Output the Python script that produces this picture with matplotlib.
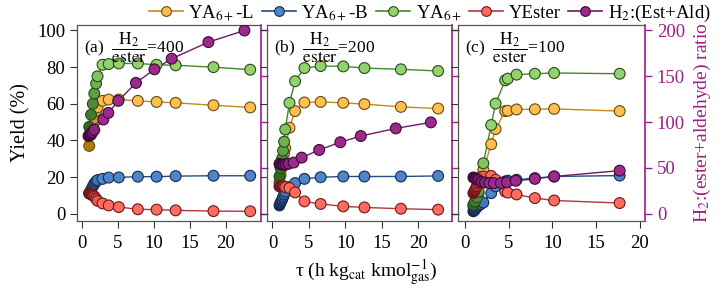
import matplotlib
matplotlib.use("Agg")
import matplotlib.pyplot as plt
import numpy as np
from matplotlib.colors import to_rgb

plt.rcParams['font.family'] = ['Liberation Serif', 'DejaVu Serif']
plt.rcParams['mathtext.fontset'] = 'stix'

# ---------------- data ----------------
series_names = ["YA$_{6+}$-L", "YA$_{6+}$-B", "YA$_{6+}$", "YEster", "H$_2$:(Est+Ald)"]
panel_labels = ["(a)", "(b)", "(c)"]
h2_ester = [400, 200, 100]

tau_a = [1.05, 1.3, 1.55, 1.75, 2.0, 2.2, 2.9, 3.75, 5.15, 7.8, 10.4, 13.05, 18.3, 23.4]
ya6L_a = [37, 43, 48, 52, 56, 58, 61.6, 62.3, 62.3, 61.6, 61, 60.5, 59.2, 58]
ya6B_a = [11.2, 13, 14.9, 16.3, 17.6, 18.3, 19, 19.7, 19.8, 20.2, 20.2, 20.5, 20.7, 20.7]
ya6_a = [47.4, 54, 60, 65.6, 71, 75, 81.3, 81.7, 82, 82, 81.3, 81, 80, 78.6]
yester_a = [11, 10.5, 10, 9.4, 8.2, 7, 5.6, 4.5, 3.6, 2.4, 2.2, 1.8, 1.4, 1.3]
tau_ratio_a = [0.95, 1.1, 1.3, 1.5, 1.75, 3.0, 3.7, 5.08, 7.54, 10.1, 12.5, 17.6, 22.6]
ratio_a = [84.8, 86, 87.5, 89, 91.5, 102.8, 110, 123.2, 142.8, 157.6, 169.2, 187.3, 200]

tau_b = [0.96, 1.1, 1.3, 1.45, 1.6, 1.75, 2.33, 3.1, 4.38, 6.6, 9.7, 12.6, 17.6, 22.7]
ya6L_b = [17, 21, 25, 29, 33, 35.7, 46.9, 56, 60.7, 61, 60.5, 59.8, 58.3, 57.4]
ya6B_b = [4.5, 6, 7.5, 9, 10.5, 12, 14.5, 16.7, 19, 19.9, 20.3, 20.3, 20.3, 20.6]
ya6_b = [20.3, 25, 30, 34.4, 39.3, 46, 60.5, 72.3, 79.5, 80.6, 80.4, 79.5, 78.8, 77.9]
yester_b = [14.9, 15, 15.2, 15, 14.9, 14.5, 14, 11.6, 6.7, 5.3, 4, 3.4, 2.7, 2.2]
tau_ratio_b = [0.96, 1.2, 1.5, 1.8, 2.2, 2.9, 4.0, 6.4, 9.3, 12.1, 16.9, 21.7]
ratio_b = [54.3, 53.5, 53.5, 53.8, 54.5, 55.8, 61.2, 69.6, 78, 84.8, 93.1, 99.7]

tau_c = [0.96, 1.15, 1.35, 1.55, 1.8, 2.1, 3.0, 3.5, 4.6, 4.9, 5.9, 8.0, 10.2, 17.7]
ya6L_c = [4, 5.5, 8, 11, 17, 24, 37.9, 46.2, 56, 56.2, 56.9, 57, 57.2, 56]
ya6B_c = [1.3, 2.2, 3.6, 4.5, 5.2, 6.1, 11.2, 14.9, 17.6, 18, 18.5, 19.4, 20.3, 20.8]
ya6_c = [4.9, 6.7, 9, 12, 20, 27.5, 48.4, 60.1, 72.8, 73.7, 75.9, 76.4, 76.8, 76.4]
yester_c = [11.2, 13, 14.9, 17, 18.5, 20.3, 20.6, 18.5, 12.1, 11.5, 10.5, 8.5, 7.2, 5.8]
tau_ratio_c = [0.96, 1.2, 1.5, 1.9, 2.3, 2.8, 3.3, 4.1, 4.8, 5.8, 8.0, 10.2, 17.7]
ratio_c = [39.5, 38, 37, 34.5, 34, 33.5, 33.4, 33.4, 34.4, 35.9, 38, 40.6, 47]

x_ticks = [0, 5, 10, 15, 20]
y_ticks = [0, 20, 40, 60, 80, 100]
r_ticks = [0, 50, 100, 150, 200]

panels = [
    (tau_a, [ya6L_a, ya6B_a, ya6_a, yester_a], tau_ratio_a, ratio_a),
    (tau_b, [ya6L_b, ya6B_b, ya6_b, yester_b], tau_ratio_b, ratio_b),
    (tau_c, [ya6L_c, ya6B_c, ya6_c, yester_c], tau_ratio_c, ratio_c),
]

# ---------------- style ----------------
line_cols = ["#c08a20", "#2a4a82", "#3f8a2c", "#b0383c", "#6e1a66"]
face_cols = ["#fdbf50", "#4a86c8", "#93d36e", "#ff6b5e", "#9c2a8c"]
dark_cols = ["#b07a10", "#12265a", "#2e6a1e", "#7a1016", "#4a0a44"]
edge_cols = ["#6a4a10", "#1a2a4a", "#2a4a1a", "#6a1a1a", "#3a0a35"]
purple = "#9b1f87"

def face_list(n, i, ndark=6):
    base = np.array(to_rgb(face_cols[i]))
    dark = np.array(to_rgb(dark_cols[i]))
    out = []
    for k in range(n):
        f = min(k / ndark, 1.0)
        out.append(tuple(dark * (1 - f) + base * f))
    return out

W, H = 722, 289
fig = plt.figure(figsize=(W / 100, H / 100), dpi=100)

lefts = [77, 267, 458]
rights = [261, 452, 645]
top_px, bot_px = 25, 221
xlims = [(-0.65, 24.9), (-0.75, 24.6), (-0.8, 20.6)]
ms = 7.8
tfs = 13.5

for p, (tau, ys, tr, rr) in enumerate(panels):
    ax = fig.add_axes([lefts[p] / W, 1 - bot_px / H, (rights[p] - lefts[p]) / W, (bot_px - top_px) / H])
    ax2 = ax.twinx()
    ax.set_zorder(ax2.get_zorder() + 1)
    ax.patch.set_visible(False)
    for i, y in enumerate(ys):
        ax.plot(tau, y, '-', color=line_cols[i], lw=1.0, zorder=2)
        ax.scatter(tau, y, s=ms ** 2, c=face_list(len(tau), i), edgecolors=edge_cols[i],
                   linewidths=0.8, zorder=3)
    ax.plot(tr, np.array(rr) / 2.0, '-', color=line_cols[4], lw=1.0, zorder=2)
    ax.scatter(tr, np.array(rr) / 2.0, s=ms ** 2, c=face_list(len(tr), 4, 5),
               edgecolors=edge_cols[4], linewidths=0.8, zorder=4)

    ax.set_xlim(*xlims[p])
    ax.set_ylim(-4, 103)
    ax2.set_ylim(-8, 206)
    ax.set_xticks(x_ticks)
    ax.set_yticks(y_ticks)
    ax2.set_yticks(r_ticks)
    ax.tick_params(axis='both', direction='out', length=5, width=0.8, labelsize=tfs,
                   colors='#333333', labelcolor='black', pad=3.5)
    ax.tick_params(axis='x', pad=5)
    ax2.tick_params(axis='y', direction='out', length=5, width=1.0, colors=purple,
                    labelcolor=purple, labelsize=tfs, pad=3.5)
    if p > 0:
        ax.set_yticklabels([])
    if p < 2:
        ax2.set_yticklabels([])
    for s in ['left', 'top', 'bottom']:
        ax.spines[s].set_color('#555555')
        ax.spines[s].set_linewidth(0.9)
    ax.spines['right'].set_visible(False)
    ax2.spines['right'].set_color(purple)
    ax2.spines['right'].set_linewidth(1.2)
    for s in ['left', 'top', 'bottom']:
        ax2.spines[s].set_visible(False)
    ax.text(0.04, 0.975, panel_labels[p] + r"  $\dfrac{\mathrm{H_2}}{\mathrm{ester}}$=" + str(h2_ester[p]),
            transform=ax.transAxes, ha='left', va='top', fontsize=12.5, zorder=10)
    if p == 0:
        ax.set_ylabel("Yield (%)", fontsize=14.5, labelpad=5)
    if p == 2:
        ax2.set_ylabel("H$_2$:(ester+aldehyde) ratio", fontsize=14, color=purple, labelpad=5)

# legend
handles = []
for i in range(5):
    h, = plt.plot([], [], '-', color=line_cols[i], lw=1.2, marker='o', ms=7,
                  mfc=face_cols[i], mec=edge_cols[i], mew=0.8)
    handles.append(h)
fig.legend(handles, series_names, loc='center', bbox_to_anchor=(0.595, 1 - 13 / H), ncol=5,
           frameon=False, fontsize=13.5, handlelength=1.8, handletextpad=0.3, columnspacing=0.4,
           borderaxespad=0)

fig.text(366 / W, 1 - 273 / H, "τ (h kg$_{\\mathrm{cat}}$ kmol$^{-1}_{\\mathrm{gas}}$)",
         ha='center', va='center', fontsize=14)

fig.savefig("out.png", dpi=100)
